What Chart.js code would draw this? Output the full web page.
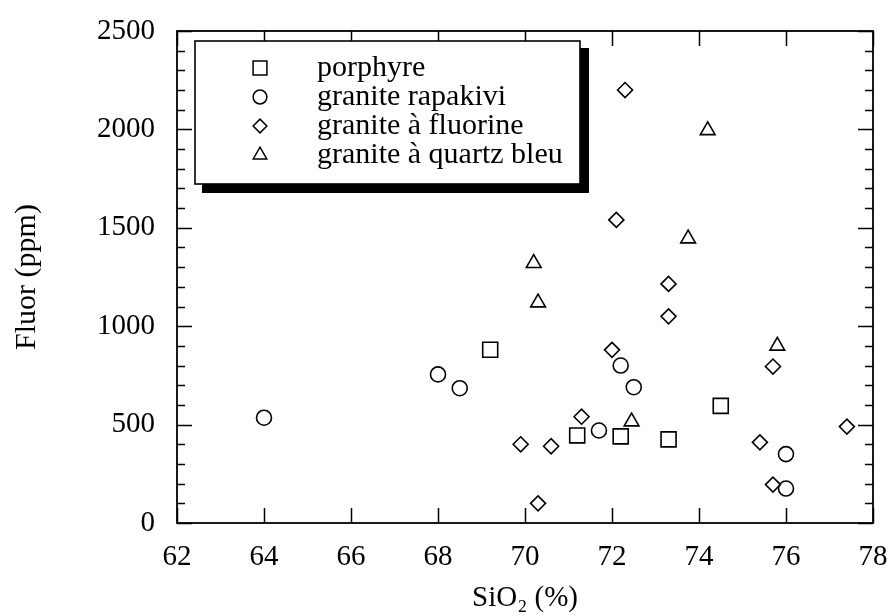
<!DOCTYPE html>
<html lang="fr">
<head>
<meta charset="utf-8">
<title>Fluor - SiO2</title>
<script src="https://cdn.jsdelivr.net/npm/chart.js@4.4.1/dist/chart.umd.min.js"></script>
<style>
  html, body { margin: 0; padding: 0; background: #fff; }
  #wrap { width: 892px; height: 616px; }
</style>
</head>
<body>
<div id="wrap"><canvas id="chart" width="892" height="616"></canvas></div>
<script>
// Teneurs en fluor (ppm) en fonction de SiO2 (%) pour les quatre faciès
const seriesNames = ['porphyre', 'granite rapakivi', 'granite à fluorine', 'granite à quartz bleu'];
const seriesStyles = ['rect', 'circle', 'rectRot', 'triangle'];

const porphyreSiO2 = [69.2, 71.2, 72.2, 73.3, 74.5];
const porphyreF = [880, 445, 440, 425, 595];

const rapakiviSiO2 = [64.0, 68.0, 68.5, 71.7, 72.2, 72.5, 76.0, 76.0];
const rapakiviF = [535, 755, 685, 470, 800, 690, 350, 175];

const fluorineSiO2 = [69.9, 70.3, 70.6, 71.3, 72.0, 72.1, 72.3, 73.3, 73.3, 75.4, 75.7, 75.7, 77.4];
const fluorineF = [400, 100, 390, 540, 880, 1540, 2200, 1215, 1050, 410, 795, 195, 490];

const quartzSiO2 = [70.2, 70.3, 72.45, 73.75, 74.2, 75.8];
const quartzF = [1320, 1120, 515, 1445, 1995, 900];

// graduations
const xTickValues = [62, 64, 66, 68, 70, 72, 74, 76, 78];
const yTickValues = [0, 500, 1000, 1500, 2000, 2500];
const yMinorStep = 100;

const FONT = '"Liberation Serif", "Times New Roman", Times, serif';

function toPoints(xs, ys) {
  return xs.map((x, i) => ({ x: x, y: ys[i] }));
}

const pointRadius = { rect: 10.6, circle: 7.5, rectRot: 7.5, triangle: 8.5 };

const datasets = [
  [porphyreSiO2, porphyreF],
  [rapakiviSiO2, rapakiviF],
  [fluorineSiO2, fluorineF],
  [quartzSiO2, quartzF]
].map(([xs, ys], i) => ({
  label: seriesNames[i],
  data: toPoints(xs, ys),
  pointStyle: seriesStyles[i],
  pointRadius: pointRadius[seriesStyles[i]],
  borderColor: '#000',
  backgroundColor: 'rgba(0,0,0,0)',
  borderWidth: 1.6
}));

// cadre + tirets intérieurs sur les quatre côtés
const frameTicks = {
  id: 'frameTicks',
  afterDatasetsDraw(chart) {
    const { ctx, chartArea: a, scales: { x, y } } = chart;
    ctx.save();
    ctx.strokeStyle = '#000';
    ctx.lineWidth = 1.8;
    ctx.strokeRect(a.left, a.top, a.right - a.left, a.bottom - a.top);
    ctx.beginPath();
    ctx.lineWidth = 1.5;
    const yMax = yTickValues[yTickValues.length - 1];
    for (let v = yTickValues[0]; v <= yMax; v += yMinorStep) {
      const py = Math.round(y.getPixelForValue(v)) + 0.5;
      const len = yTickValues.includes(v) ? 15 : 8;
      ctx.moveTo(a.left, py);
      ctx.lineTo(a.left + len, py);
      ctx.moveTo(a.right, py);
      ctx.lineTo(a.right - len, py);
    }
    xTickValues.forEach(v => {
      const px = Math.round(x.getPixelForValue(v)) + 0.5;
      ctx.moveTo(px, a.bottom);
      ctx.lineTo(px, a.bottom - 15);
      ctx.moveTo(px, a.top);
      ctx.lineTo(px, a.top + 15);
    });
    ctx.stroke();
    ctx.restore();
  }
};

// légende encadrée avec ombre portée
const legendBox = {
  id: 'legendBox',
  afterDraw(chart) {
    const { ctx, chartArea: a } = chart;
    const left = a.left + 18, top = a.top + 10, w = 385, h = 143;
    ctx.save();
    ctx.fillStyle = '#000';
    ctx.fillRect(left + 7, top + 7, w + 2, h + 2);
    ctx.fillStyle = '#fff';
    ctx.fillRect(left, top, w, h);
    ctx.strokeStyle = '#000';
    ctx.lineWidth = 1.6;
    ctx.strokeRect(left, top, w, h);

    ctx.font = '30px ' + FONT;
    ctx.textAlign = 'left';
    ctx.textBaseline = 'alphabetic';
    chart.data.datasets.forEach((ds, i) => {
      const cy = top + 27 + i * 29;
      ctx.fillStyle = 'rgba(0,0,0,0)';
      ctx.strokeStyle = '#000';
      ctx.lineWidth = 1.5;
      Chart.helpers.drawPoint(ctx, {
        pointStyle: ds.pointStyle,
        radius: ds.pointRadius * 0.92,
        borderWidth: 1.5,
        rotation: 0
      }, left + 65, cy);
      ctx.fillStyle = '#000';
      ctx.fillText(ds.label, left + 122, cy + 8);
    });
    ctx.restore();
  }
};

new Chart(document.getElementById('chart'), {
  type: 'scatter',
  data: { datasets: datasets },
  options: {
    responsive: false,
    animation: false,
    layout: { padding: { top: 31, right: 19, left: 0, bottom: 0 } },
    plugins: {
      legend: { display: false },
      tooltip: { enabled: false }
    },
    scales: {
      x: {
        type: 'linear',
        min: xTickValues[0],
        max: xTickValues[xTickValues.length - 1],
        afterBuildTicks: s => { s.ticks = xTickValues.map(v => ({ value: v })); },
        afterFit: s => {
          s.height = 93;
          s.paddingLeft = 0;
          s.paddingRight = 0;
        },
        grid: { display: false, drawTicks: false },
        border: { display: false },
        ticks: {
          padding: 17,
          color: '#000',
          autoSkip: false,
          maxRotation: 0,
          callback: v => String(v),
          font: { family: FONT, size: 29, weight: 'normal' }
        },
        title: {
          display: true,
          text: 'SiO₂ (%)',
          color: '#000',
          padding: { top: 0, bottom: 0 },
          font: { family: FONT, size: 29, weight: 'normal' }
        }
      },
      y: {
        type: 'linear',
        min: yTickValues[0],
        max: yTickValues[yTickValues.length - 1],
        afterBuildTicks: s => { s.ticks = yTickValues.map(v => ({ value: v })); },
        afterFit: s => {
          s.width = 177;
          s.paddingTop = 0;
          s.paddingBottom = 0;
        },
        grid: { display: false, drawTicks: false },
        border: { display: false },
        ticks: {
          padding: 22,
          color: '#000',
          callback: v => String(v),
          font: { family: FONT, size: 29, weight: 'normal' }
        },
        title: {
          display: true,
          text: 'Fluor (ppm)',
          color: '#000',
          padding: { top: 9, bottom: 0 },
          font: { family: FONT, size: 30, weight: 'normal' }
        }
      }
    }
  },
  plugins: [frameTicks, legendBox]
});
</script>
</body>
</html>
